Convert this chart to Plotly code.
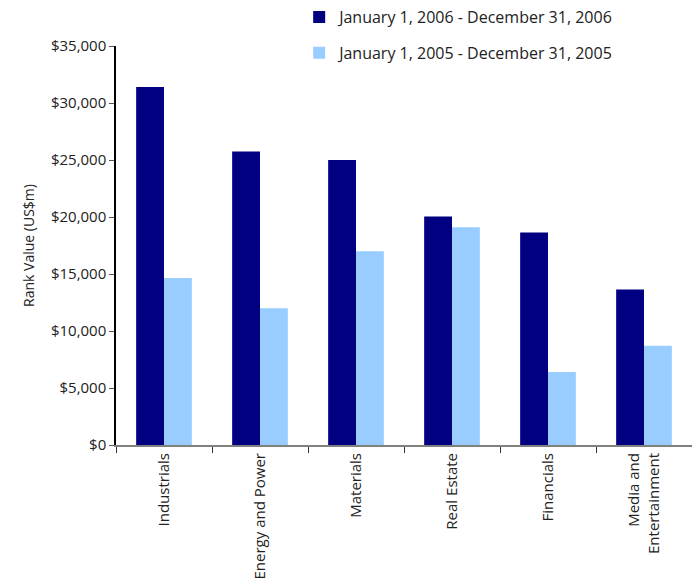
import plotly.graph_objects as go

categories = ["Industrials", "Energy and Power", "Materials", "Real Estate", "Financials", "Media and<br>Entertainment"]
values_2006 = [31400, 25750, 25000, 20050, 18650, 13650]
values_2005 = [14650, 12000, 17000, 19100, 6400, 8700]
series_names = ["January 1, 2006 - December 31, 2006", "January 1, 2005 - December 31, 2005"]
y_ticks = [0, 5000, 10000, 15000, 20000, 25000, 30000, 35000]

FONT = "Open Sans, Noto Sans, DejaVu Sans, sans-serif"

fig = go.Figure()
fig.add_trace(go.Bar(x=categories, y=values_2006, name=series_names[0],
                     marker=dict(color="#000080", line=dict(width=0)), legendgroup="a"))
fig.add_trace(go.Bar(x=categories, y=values_2005, name=series_names[1],
                     marker=dict(color="#99CCFF", line=dict(width=0)), legendgroup="b"))

fig.update_layout(
    width=692, height=582,
    margin=dict(l=116, r=0, t=45, b=137),
    paper_bgcolor="white", plot_bgcolor="white",
    barmode="group", bargap=0.42, bargroupgap=0,
    font=dict(family=FONT, size=15, color="#222222"),
    legend=dict(x=0.318, y=1.115, xanchor="left", yanchor="top",
                font=dict(size=16, color="#222222"), tracegroupgap=12,
                itemwidth=30, bgcolor="rgba(0,0,0,0)"),
    showlegend=True,
)
fig.update_xaxes(
    type="category", tickangle=-90, tickson="boundaries",
    ticks="outside", ticklen=6, tickcolor="#333333",
    showline=True, linecolor="#808080", linewidth=2,
    showgrid=False, tickfont=dict(size=15, color="#222222"),
)
fig.update_yaxes(
    range=[0, 35000], tickvals=y_ticks, tickformat="$,",
    ticks="outside", ticklen=5, tickcolor="#555555",
    showline=True, linecolor="black", linewidth=1.5,
    showgrid=False, zeroline=False,
    title=dict(text="Rank Value (US$m)", font=dict(size=14, color="#222222"), standoff=13),
    tickfont=dict(size=15, color="#222222"),
)

fig.write_html("out.html")
